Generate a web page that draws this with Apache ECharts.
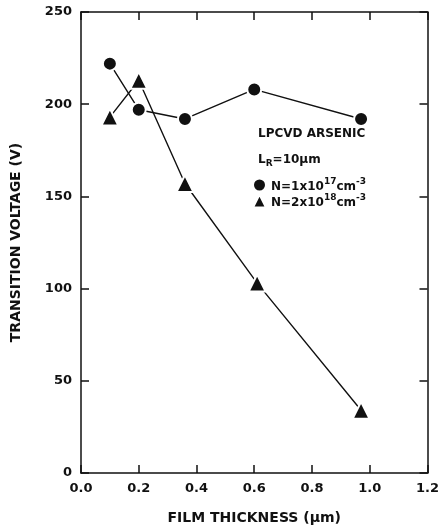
<!DOCTYPE html>
<html>
<head>
<meta charset="utf-8">
<script src="https://cdn.jsdelivr.net/npm/echarts@6/dist/echarts.min.js"></script>
<style>
  html, body { margin: 0; padding: 0; background: #fff; }
  #chart { width: 442px; height: 530px; }
</style>
</head>
<body>
<div id="chart"></div>
<script>
// data
var thicknessLow = [0.10, 0.20, 0.36, 0.60, 0.97];      // N = 1e17
var voltageLow = [222, 197, 192, 208, 192];
var thicknessHigh = [0.10, 0.20, 0.36, 0.61, 0.97];     // N = 2e18
var voltageHigh = [193, 213, 157, 103, 34];
var xTicks = [0.0, 0.2, 0.4, 0.6, 0.8, 1.0, 1.2];
var yTicks = [0, 50, 100, 150, 200, 250];

var seriesLowName = 'N=1x10^17cm^-3';
var seriesHighName = 'N=2x10^18cm^-3';

function pairs(xs, ys) {
    return xs.map(function (x, i) { return [x, ys[i]]; });
}

var chart = echarts.init(document.getElementById('chart'));
var fontFam = 'DejaVu Sans';
var ink = '#111';

// frame axis shared bits
function frameLine() {
    return { onZero: false, lineStyle: { color: ink, width: 1.5 } };
}
function frameTick() {
    return { inside: true, length: 8, lineStyle: { color: ink, width: 1.5 } };
}

var option = {
    backgroundColor: '#fff',
    animation: false,
    grid: { left: 81, right: 10, top: 12, bottom: 53 },
    legend: {
        left: 252,
        top: 177,
        orient: 'vertical',
        itemGap: 0,
        itemWidth: 13,
        itemHeight: 13,
        padding: 0,
        data: [
            { name: seriesLowName, icon: 'circle' },
            { name: seriesHighName, icon: 'triangle' }
        ],
        formatter: function (name) {
            if (name === seriesLowName) return '{t|N=1x10}{s|17}{t|cm}{s|-3}';
            return '{t|N=2x10}{s|18}{t|cm}{s|-3}';
        },
        textStyle: {
            color: ink,
            rich: {
                t: { fontFamily: fontFam, fontSize: 12, fontWeight: 'bold', color: ink, padding: [4, 0, 0, 0] },
                s: { fontFamily: fontFam, fontSize: 9, fontWeight: 'bold', color: ink, verticalAlign: 'top', padding: [0, 0, 6, 0] }
            }
        }
    },
    graphic: [
        { type: 'text', left: 258, top: 128, style: { text: 'LPCVD ARSENIC', font: 'bold 12px ' + fontFam, fill: ink } },
        { type: 'text', left: 258, top: 154, style: {
            text: '{t|L}{sub|R}{t|=10μm}',
            rich: {
                t: { font: 'bold 12px ' + fontFam, fill: ink },
                sub: { font: 'bold 9px ' + fontFam, fill: ink, verticalAlign: 'bottom', padding: [8, 0, 0, 0] }
            }
        } }
    ],
    xAxis: [{
        type: 'value',
        min: 0, max: 1.2, interval: 0.2,
        name: 'FILM THICKNESS (μm)',
        nameLocation: 'middle',
        nameGap: 38,
        nameTextStyle: { fontFamily: fontFam, fontSize: 14, fontWeight: 'bold', color: ink },
        axisLine: frameLine(),
        axisTick: frameTick(),
        axisLabel: {
            margin: 9,
            fontFamily: fontFam, fontSize: 13, fontWeight: 'bold', color: ink,
            formatter: function (v) { return xTicks.indexOf(+v.toFixed(1)) >= 0 ? v.toFixed(1) : ''; }
        },
        splitLine: { show: false }
    }, {
        type: 'value',
        position: 'top',
        min: 0, max: 1.2, interval: 0.2,
        axisLine: frameLine(),
        axisTick: frameTick(),
        axisLabel: { show: false },
        splitLine: { show: false }
    }],
    yAxis: [{
        type: 'value',
        min: 0, max: 250, interval: 50,
        name: 'TRANSITION VOLTAGE (V)',
        nameLocation: 'middle',
        nameGap: 58,
        nameTextStyle: { fontFamily: fontFam, fontSize: 14, fontWeight: 'bold', color: ink },
        axisLine: frameLine(),
        axisTick: frameTick(),
        axisLabel: {
            margin: 9,
            fontFamily: fontFam, fontSize: 13, fontWeight: 'bold', color: ink,
            formatter: function (v) { return yTicks.indexOf(v) >= 0 ? String(v) : ''; }
        },
        splitLine: { show: false }
    }, {
        type: 'value',
        position: 'right',
        min: 0, max: 250, interval: 50,
        axisLine: frameLine(),
        axisTick: frameTick(),
        axisLabel: { show: false },
        splitLine: { show: false }
    }],
    series: [{
        name: seriesLowName,
        type: 'line',
        data: pairs(thicknessLow, voltageLow),
        symbol: 'circle',
        symbolSize: 14,
        itemStyle: { color: ink, borderColor: '#fff', borderWidth: 2 },
        lineStyle: { color: ink, width: 1.4 }
    }, {
        name: seriesHighName,
        type: 'line',
        data: pairs(thicknessHigh, voltageHigh),
        symbol: 'triangle',
        symbolSize: 17,
        itemStyle: { color: ink, borderColor: '#fff', borderWidth: 2 },
        lineStyle: { color: ink, width: 1.4 }
    }]
};

chart.setOption(option);
</script>
</body>
</html>
